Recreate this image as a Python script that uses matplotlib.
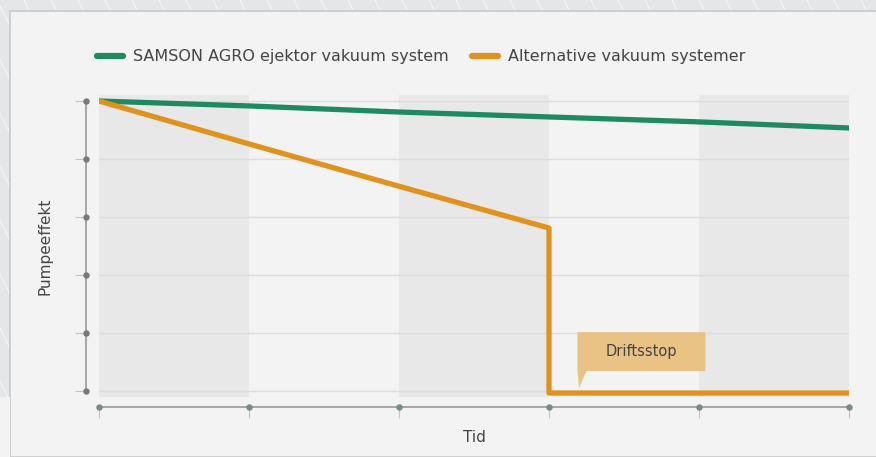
import numpy as np
import matplotlib.pyplot as plt
from matplotlib.lines import Line2D
from matplotlib.patches import Rectangle, Polygon
import matplotlib.transforms as mtransforms

plt.rcParams['font.family'] = ['DejaVu Sans']

# data
tid = [0, 1, 2, 3, 4, 5]
samson = [100, 98.3, 96.2, 94.5, 92.8, 90.7]
alt_x = [0, 1, 2, 3, 3, 4, 5]
alt_y = [100, 85.2, 70.6, 56.2, -0.7, -0.7, -0.7]
y_ticks = [0, 20, 40, 60, 80, 100]
labels = ["SAMSON AGRO ejektor vakuum system", "Alternative vakuum systemer"]
stop_text = "Driftsstop"

green = "#1f8a62"
orange = "#e0921e"
txt = "#444444"

fig = plt.figure(figsize=(8.76, 4.57), dpi=100)
fig.patch.set_facecolor("#e5e6e8")

# diagonal background stripes
for x0 in np.arange(-300, 900, 27):
    fig.add_artist(Line2D([x0 / 876, (x0 + 230) / 876], [1, 0], color="white",
                          lw=0.8, alpha=0.55, zorder=-3))
# card
fig.add_artist(Rectangle((10 / 876, 0), 870 / 876, 446 / 457, facecolor="#f3f3f3",
                         edgecolor="#c9c9c9", lw=1.2, zorder=-2))
fig.add_artist(Rectangle((0, 0), 10 / 876, 60 / 457, facecolor="#f3f3f3",
                         edgecolor="none", zorder=-2))

ax = fig.add_axes([99 / 876, 1 - 396.8 / 457, 750 / 876, 301.6 / 457])
ax.set_facecolor("#f3f3f3")
ax.set_xlim(0, 5)
ax.set_ylim(-2, 102)

for i in range(0, 5, 2):
    ax.axvspan(tid[i], tid[i + 1], color="#e8e8e8", lw=0, zorder=0)
for yt in y_ticks:
    ax.axhline(yt, color="#dcdcdc", lw=1, zorder=1)

ax.plot(tid, samson, color=green, lw=3.8, solid_capstyle="round", zorder=3)
ax.plot(alt_x, alt_y, color=orange, lw=3.8, solid_joinstyle="round",
        solid_capstyle="butt", zorder=3)

# spines and ticks (offsets in pixels)
off_l = 13
off_b = 10
for s in ["top", "right"]:
    ax.spines[s].set_visible(False)
ax.spines["left"].set_position(("outward", off_l * 0.72))
ax.spines["bottom"].set_position(("outward", off_b * 0.72))
ax.spines["left"].set_bounds(0, 100)
ax.spines["bottom"].set_bounds(0, 5)
for s in ["left", "bottom"]:
    ax.spines[s].set_color("#9a9a9a")
    ax.spines[s].set_linewidth(1.2)
ax.set_xticks(tid)
ax.set_yticks(y_ticks)
ax.tick_params(length=8, color="#c4c4c4", width=0.8, labelleft=False, labelbottom=False)

ty = mtransforms.blended_transform_factory(ax.transAxes, ax.transData) + \
    mtransforms.ScaledTranslation(-off_l / 100, 0, fig.dpi_scale_trans)
ax.plot([0] * len(y_ticks), y_ticks, "o", ms=3.6, color="#7a7a7a", transform=ty,
        clip_on=False, zorder=5)
tx = mtransforms.blended_transform_factory(ax.transData, ax.transAxes) + \
    mtransforms.ScaledTranslation(0, -off_b / 100, fig.dpi_scale_trans)
ax.plot(tid, [0] * len(tid), "o", ms=3.6, color="#7a8a84", transform=tx,
        clip_on=False, zorder=5)

ax.set_ylabel("Pumpeeffekt", fontsize=11, color=txt, labelpad=16)
ax.set_xlabel("Tid", fontsize=11, color=txt, labelpad=9)

# callout
bx = alt_x[3] + 0.19
box = Polygon([[bx, 20.3], [bx + 0.853, 20.3], [bx + 0.853, 6.9], [bx + 0.06, 6.9],
               [bx + 0.01, 1.0], [bx, 6.9]], closed=True, facecolor="#e9c386",
              edgecolor="none", zorder=4)
ax.add_patch(box)
ax.text(bx + 0.427, 13.6, stop_text, ha="center", va="center", fontsize=10.5,
        color=txt, zorder=5)

# legend
fig.add_artist(Line2D([97 / 876, 123 / 876], [1 - 56 / 457] * 2, color=green, lw=4.5,
                      solid_capstyle="round", zorder=5))
fig.text(133 / 876, 1 - 56 / 457, labels[0], fontsize=11.5, color=txt, va="center")
fig.add_artist(Line2D([472 / 876, 498 / 876], [1 - 56 / 457] * 2, color=orange, lw=4.5,
                      solid_capstyle="round", zorder=5))
fig.text(508 / 876, 1 - 56 / 457, labels[1], fontsize=11.5, color=txt, va="center")

plt.savefig("out.png", dpi=100, facecolor=fig.get_facecolor())
